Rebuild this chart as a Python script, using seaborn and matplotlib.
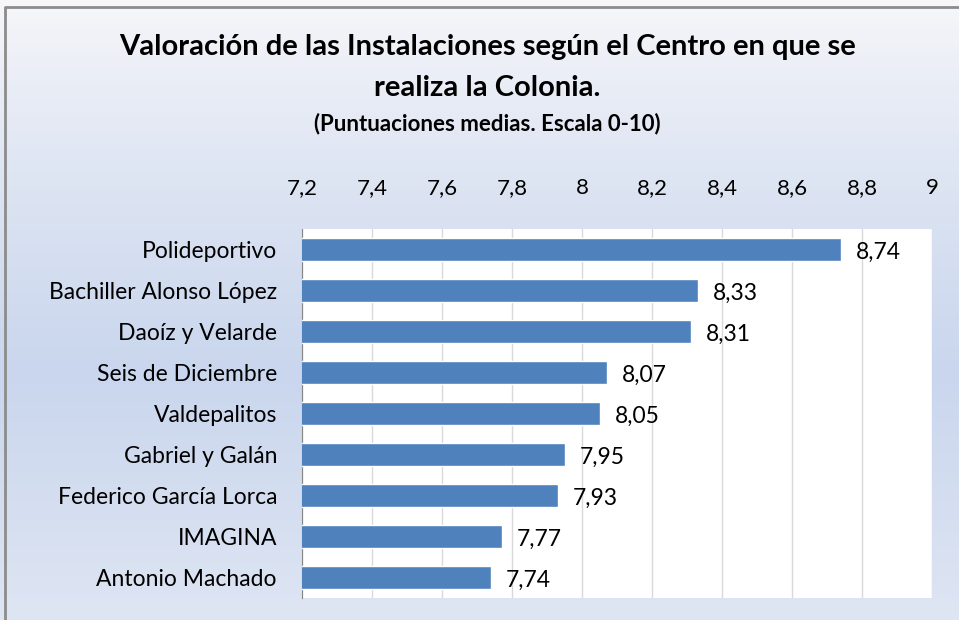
import numpy as np
import pandas as pd
import matplotlib
matplotlib.use("Agg")
import matplotlib.pyplot as plt
import seaborn as sns

# Data
centros = ["Polideportivo", "Bachiller Alonso López", "Daoíz y Velarde",
           "Seis de Diciembre", "Valdepalitos", "Gabriel y Galán",
           "Federico García Lorca", "IMAGINA", "Antonio Machado"]
valores = [8.74, 8.33, 8.31, 8.07, 8.05, 7.95, 7.93, 7.77, 7.74]
ticks = [7.2, 7.4, 7.6, 7.8, 8.0, 8.2, 8.4, 8.6, 8.8, 9.0]

df = pd.DataFrame({"centro": centros, "valor": valores})

sns.set_style("white")
plt.rcParams["font.family"] = ["Lato", "DejaVu Sans"]
plt.rcParams["text.color"] = "black"
plt.rcParams["xtick.color"] = "black"
plt.rcParams["ytick.color"] = "black"

fig = plt.figure(figsize=(9.59, 6.2), dpi=100)

# background gradient
bg = fig.add_axes([0, 0, 1, 1], zorder=-10)
grad = np.concatenate([np.linspace(0, 1, 60) ** 0.8, np.linspace(1, 0.55, 40)])
c_top = np.array([0.97, 0.97, 0.98])
c_mid = np.array([0.79, 0.84, 0.93])
img = c_top[None, :] + (c_mid - c_top)[None, :] * grad[:, None]
bg.imshow(img[:, None, :], aspect="auto", extent=[0, 1, 0, 1])
bg.set_xlim(0, 1)
bg.set_ylim(0, 1)
bg.axis("off")
# chart border
bg.plot([5 / 959, 5 / 959, 1], [0, 1 - 7 / 620, 1 - 7 / 620], color="#8c8c8c", lw=2)

ax = fig.add_axes([302 / 959, 1 - 598 / 620, 630 / 959, 369 / 620])
ax.set_facecolor("white")
sns.barplot(data=df, x="valor", y="centro", orient="h", color="#4F81BD",
            width=0.58, saturation=1, ax=ax, zorder=3)

ax.set_xlim(7.2, 9.0)
ax.set_ylim(8.5, -0.5)
ax.set_xticks(ticks)
ax.set_xticklabels([("%g" % t).replace(".", ",") for t in ticks], fontsize=16)
ax.xaxis.tick_top()
ax.tick_params(axis="x", length=0, pad=22)
ax.tick_params(axis="y", length=0, pad=18, labelsize=16.5)
ax.grid(axis="x", color="#d9d9d9", lw=1, zorder=0)
ax.set_xlabel("")
ax.set_ylabel("")
for s in ["top", "right", "bottom"]:
    ax.spines[s].set_visible(False)
ax.spines["left"].set_color("#868686")

for i, v in enumerate(valores):
    ax.text(v + 0.043, i + 0.08, ("%.2f" % v).replace(".", ","), va="center",
            ha="left", fontsize=16.5)

fig.text(0.508, 1 - 47 / 620, "Valoración de las Instalaciones según el Centro en que se",
         ha="center", va="center", fontsize=21, fontweight="bold")
fig.text(0.508, 1 - 88 / 620, "realiza la Colonia.",
         ha="center", va="center", fontsize=21, fontweight="bold")
fig.text(0.508, 1 - 124 / 620, "(Puntuaciones medias. Escala 0-10)",
         ha="center", va="center", fontsize=16, fontweight="bold")

fig.savefig("out.png", dpi=100)
